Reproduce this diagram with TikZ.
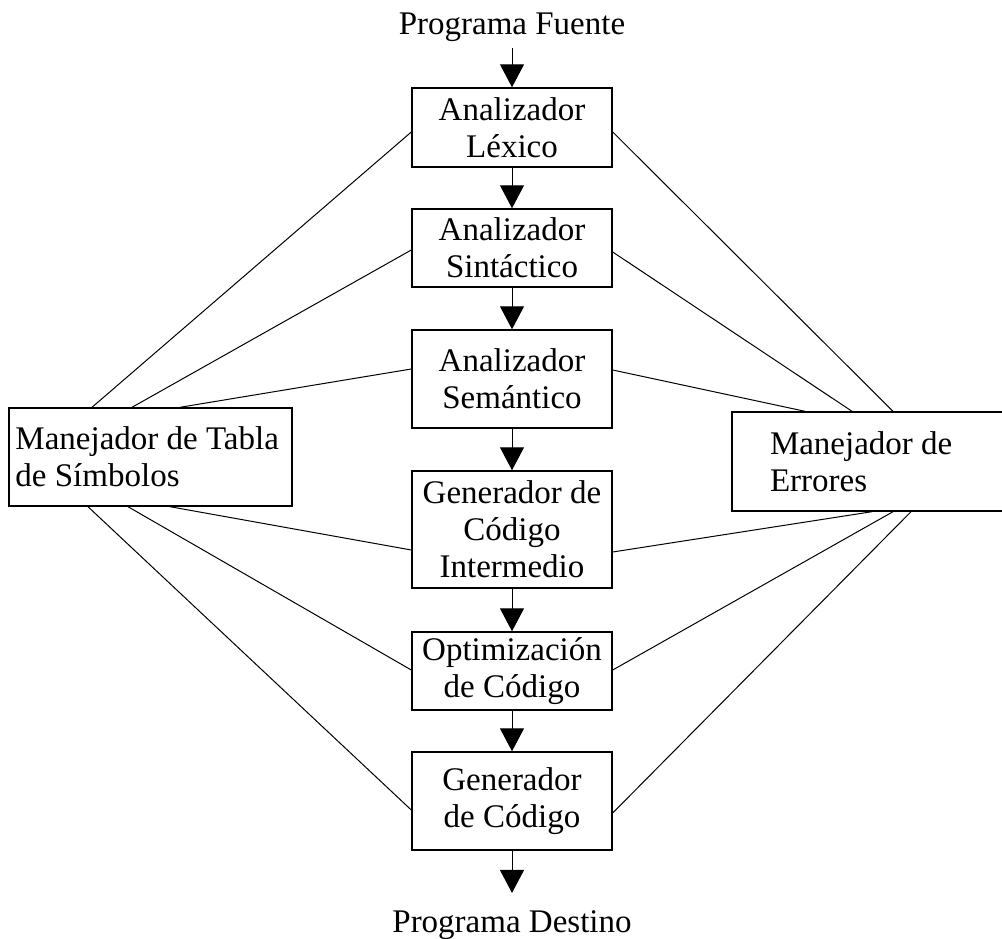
\documentclass[tikz,border=0pt]{standalone}
\usepackage{fontspec}
\setmainfont{Liberation Serif}
\usetikzlibrary{arrows.meta}

\begin{document}
\begin{tikzpicture}[x=1pt,y=1pt,font=\fontsize{33}{37}\selectfont,
  etapa/.style={draw, line width=1.4pt, minimum width=200pt, inner sep=0pt, align=center},
  manejador/.style={draw, line width=1.4pt, inner sep=0pt, align=flush left},
  flecha/.style={line width=1pt, -{Triangle[length=23pt,width=24pt]}},
  enlace/.style={line width=1pt}]
        \useasboundingbox (0,0) rectangle (1002,-939);
        % entrada y salida
        \node[anchor=base, inner sep=6pt] (fuente) at (512,-35) {Programa Fuente};
        \node[anchor=base, inner sep=3pt] (destino) at (512,-932) {Programa Destino};
        % fases del compilador
        \node[etapa, minimum height=79pt] (lexico) at (512,-127.5) {Analizador\\L\'exico};
        \node[etapa, minimum height=78pt] (sintactico) at (512,-248) {Analizador\\Sint\'actico};
        \node[etapa, minimum height=98pt] (semantico) at (512,-379) {Analizador\\Sem\'antico};
        \node[etapa, minimum height=117pt] (intermedio) at (512,-529.5) {Generador de\\C\'odigo\\Intermedio};
        \node[etapa, minimum height=78pt] (optimizacion) at (512,-671) {Optimizaci\'on\\de C\'odigo};
        \node[etapa, minimum height=98pt] (generador) at (512,-801) {Generador\\de C\'odigo};
        % manejadores laterales
        \node[manejador, minimum width=283pt, minimum height=98pt, text width=270pt] (tabla) at (150.5,-457) {Manejador de Tabla\\de S\'imbolos};
        \node[manejador, minimum width=273pt, minimum height=99pt, text width=197pt] (errores) at (868.5,-461.5) {Manejador de\\Errores};
        % flujo principal
        \foreach \a/\b in {fuente/lexico, lexico/sintactico, sintactico/semantico, semantico/intermedio, intermedio/optimizacion, optimizacion/generador}
        \draw[flecha] (\a.south) -- (\b.north);
        \draw[flecha, shorten >=14pt] (generador.south) -- (destino.north);
        % enlaces con la tabla de simbolos
        \foreach \stage/\dx/\dy in {lexico/-58.5/-4.5, sintactico/-18.5/-2, semantico/29.5/10}
        \draw[enlace] ([xshift=\dx pt]tabla.north) -- ([yshift=\dy pt]\stage.west);
        \foreach \stage/\dx/\dy in {intermedio/19.5/-20.5, optimizacion/-22.5/1, generador/-62.5/-9}
        \draw[enlace] ([xshift=\dx pt]tabla.south) -- ([yshift=\dy pt]\stage.west);
        % enlaces con el manejador de errores
        \foreach \stage/\dx/\dy in {lexico/24.5/-4.5, sintactico/-16.5/-4, semantico/-63.5/9}
        \draw[enlace] ([xshift=\dx pt]errores.north) -- ([yshift=\dy pt]\stage.east);
        \foreach \stage/\dx/\dy in {intermedio/3.5/-22.5, optimizacion/24.5/1, generador/42.5/-12}
        \draw[enlace] ([xshift=\dx pt]errores.south) -- ([yshift=\dy pt]\stage.east);
\end{tikzpicture}
\end{document}
